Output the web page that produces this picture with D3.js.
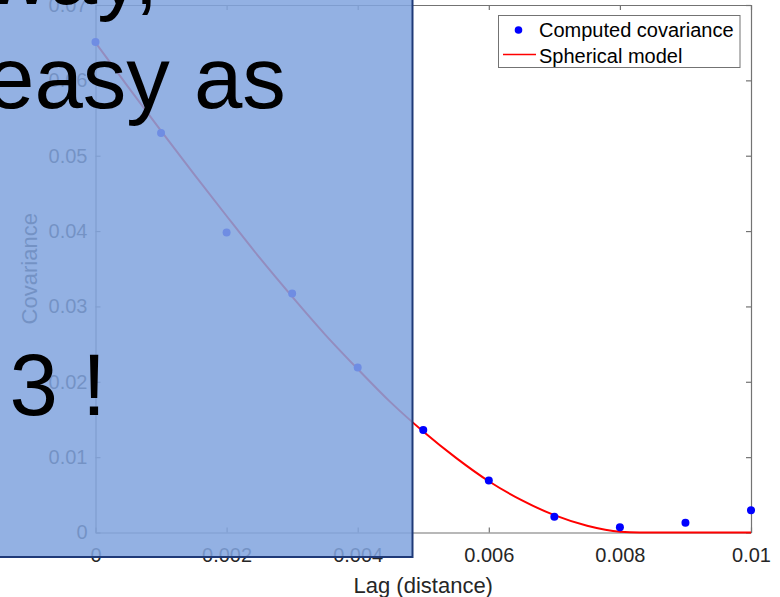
<!DOCTYPE html>
<html>
<head>
<meta charset="utf-8">
<script src="https://cdn.jsdelivr.net/npm/d3@7/dist/d3.min.js"></script>
<style>
  html, body { margin: 0; padding: 0; background: #ffffff; overflow: hidden; }
  svg { display: block; }
  text { font-family: "Liberation Sans", Arial, Helvetica, sans-serif; }
</style>
</head>
<body>
<svg id="chart" width="780" height="597"></svg>
<script>
// Experimental covariance at each lag
const lags = [0, 0.001, 0.002, 0.003, 0.004, 0.005, 0.006, 0.007, 0.008, 0.009, 0.01];
const covariance = [0.0651, 0.0530, 0.0398, 0.0317, 0.0219, 0.0136, 0.0069, 0.0021, 0.0007, 0.0013, 0.00295];

// Fitted spherical model, sampled along the lag axis
const modelLags = [0, 0.0005, 0.001, 0.0015, 0.002, 0.0025, 0.003, 0.0035, 0.004, 0.0045,
                   0.005, 0.0055, 0.006, 0.0065, 0.007, 0.0075, 0.008, 0.0083, 0.009, 0.01];
const modelValues = [0.0650, 0.0591, 0.0533, 0.0476, 0.0420, 0.0365, 0.0313, 0.0263, 0.0217, 0.0173,
                     0.0134, 0.0099, 0.0068, 0.0043, 0.0023, 0.0009, 0.0001, 0, 0, 0];

// Axis ticks
const xTicks = [0, 0.002, 0.004, 0.006, 0.008, 0.01];
const xTickLabels = ["0", "0.002", "0.004", "0.006", "0.008", "0.01"];
const yTicks = [0, 0.01, 0.02, 0.03, 0.04, 0.05, 0.06, 0.07];
const yTickLabels = ["0", "0.01", "0.02", "0.03", "0.04", "0.05", "0.06", "0.07"];

// Legend entries
const legendLabels = ["Computed covariance", "Spherical model"];

// Slide text lines laid over the figure
const slideLines = ["way,", "easy as", "3 !"];

const svg = d3.select("#chart");
const axisColor = "#737373";
const textColor = "#262626";

const x = d3.scaleLinear().domain([0, 0.01]).range([95.5, 751]);
const y = d3.scaleLinear().domain([0, 0.07]).range([532.5, 5]);

const plot = svg.append("g");

function styleAxis(g) {
  g.select(".domain").attr("stroke", axisColor).attr("stroke-width", 1.2);
  g.selectAll(".tick line").attr("stroke", axisColor).attr("stroke-width", 1.2);
  g.selectAll(".tick text").attr("fill", textColor).attr("font-size", 20)
    .attr("font-family", "'Liberation Sans', Arial, sans-serif");
}

// Bottom axis with labels
plot.append("g")
  .attr("transform", `translate(0,${y(0)})`)
  .call(d3.axisBottom(x).tickValues(xTicks).tickSizeInner(-5).tickSizeOuter(0).tickPadding(15)
    .tickFormat((d, i) => xTickLabels[i]))
  .call(styleAxis);

// Left axis with labels
plot.append("g")
  .attr("transform", `translate(${x(0)},0)`)
  .call(d3.axisLeft(y).tickValues(yTicks).tickSizeInner(-5).tickSizeOuter(0).tickPadding(8)
    .tickFormat((d, i) => yTickLabels[i]))
  .call(styleAxis);

// Top and right box edges with inward ticks
plot.append("g")
  .attr("transform", `translate(0,${y(0.07)})`)
  .call(d3.axisTop(x).tickValues(xTicks).tickSizeInner(-5).tickSizeOuter(0).tickFormat(""))
  .call(styleAxis);
plot.append("g")
  .attr("transform", `translate(${x(0.01)},0)`)
  .call(d3.axisRight(y).tickValues(yTicks).tickSizeInner(-5).tickSizeOuter(0).tickFormat(""))
  .call(styleAxis);

// Axis titles
plot.append("text")
  .attr("x", (x(0) + x(0.01)) / 2).attr("y", 592.5)
  .attr("text-anchor", "middle").attr("font-size", 22).attr("fill", textColor)
  .text("Lag (distance)");
plot.append("text")
  .attr("transform", `translate(37,${(y(0) + y(0.07)) / 2}) rotate(-90)`)
  .attr("text-anchor", "middle").attr("font-size", 22).attr("fill", textColor)
  .text("Covariance");

// Spherical model curve
const modelData = modelLags.map((d, i) => [d, modelValues[i]]);
plot.append("path")
  .datum(modelData)
  .attr("fill", "none").attr("stroke", "#ff0000").attr("stroke-width", 2)
  .attr("d", d3.line().x(d => x(d[0])).y(d => y(d[1])).curve(d3.curveMonotoneX));

// Covariance points
plot.append("g").selectAll("circle")
  .data(lags.map((d, i) => [d, covariance[i]]))
  .join("circle")
  .attr("cx", d => x(d[0])).attr("cy", d => y(d[1])).attr("r", 4)
  .attr("fill", "#0000ff");

// Legend
const legend = plot.append("g");
legend.append("rect")
  .attr("x", 498.5).attr("y", 15.5).attr("width", 241.5).attr("height", 52)
  .attr("fill", "#ffffff").attr("stroke", axisColor).attr("stroke-width", 1);
legend.append("circle").attr("cx", 518.5).attr("cy", 30).attr("r", 3.8).attr("fill", "#0000ff");
legend.append("line").attr("x1", 503).attr("x2", 536).attr("y1", 54.5).attr("y2", 54.5)
  .attr("stroke", "#ff0000").attr("stroke-width", 1.5);
legend.selectAll("text.lg")
  .data(legendLabels)
  .join("text")
  .attr("class", "lg")
  .attr("x", 539).attr("y", (d, i) => 37 + i * 25.5)
  .attr("font-size", 20).attr("fill", "#000000")
  .text(d => d);

// Translucent slide panel covering the left half of the figure
svg.append("rect")
  .attr("x", -3).attr("y", -3).attr("width", 415.5).attr("height", 560)
  .attr("fill", "rgb(129,164,222)").attr("fill-opacity", 0.86)
  .attr("stroke", "#1f3a78").attr("stroke-width", 2);

// Slide text
const slidePos = [[-14, 4], [-14, 108], [9.5, 415]];
svg.selectAll("text.slide")
  .data(slideLines)
  .join("text")
  .attr("class", "slide")
  .attr("x", (d, i) => slidePos[i][0]).attr("y", (d, i) => slidePos[i][1])
  .attr("font-size", 87).attr("fill", "#000000")
  .text(d => d);
</script>
</body>
</html>
